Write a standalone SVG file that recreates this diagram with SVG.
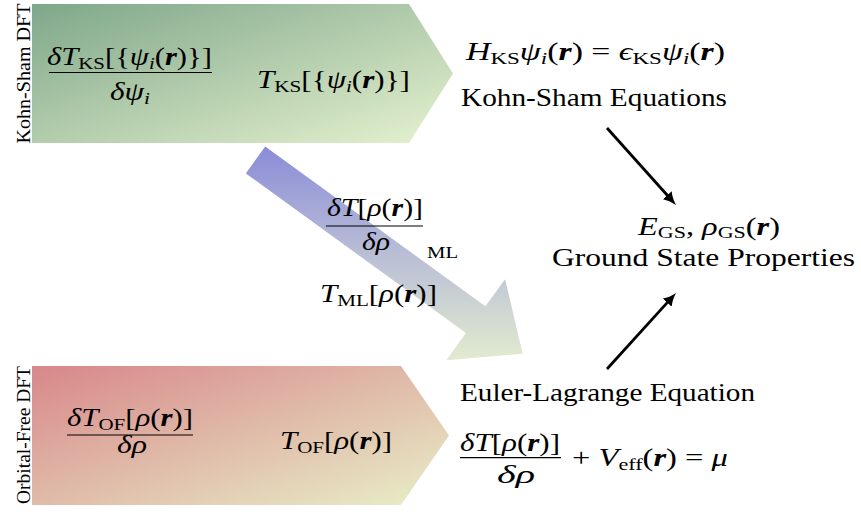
<svg xmlns="http://www.w3.org/2000/svg" width="861" height="512" viewBox="0 0 861 512" font-family="Liberation Serif, DejaVu Serif, serif">
<style>
text{fill:#000}
.t{font-size:25px}
.p{font-size:26px}
.lab{font-size:19px}
.i{font-style:italic}
.b{font-style:italic;font-weight:bold}
.s{font-size:17px}
.bar{stroke:#000;stroke-width:1.2}
.conn{stroke:#000;stroke-width:2.8;fill:none}
</style>
<defs>
<linearGradient id="gKS" x1="0" y1="0" x2="1" y2="1">
<stop offset="0" stop-color="#7fa78a"/>
<stop offset="1" stop-color="#e6f2cf"/>
</linearGradient>
<linearGradient id="gOF" x1="0" y1="0" x2="1" y2="1">
<stop offset="0" stop-color="#d8878a"/>
<stop offset="1" stop-color="#e8efc8"/>
</linearGradient>
<linearGradient id="gML" gradientUnits="userSpaceOnUse" x1="0" y1="147" x2="0" y2="361">
<stop offset="0" stop-color="#8b8cd8"/>
<stop offset="0.5" stop-color="#b9bed6"/>
<stop offset="1" stop-color="#e2ebcf"/>
</linearGradient>
<marker id="ah" viewBox="0 -7 14 14" markerWidth="14" markerHeight="14" refX="3" refY="0" orient="auto" markerUnits="userSpaceOnUse">
<path d="M0,-6 Q5,-2 13,0 Q5,2 0,6 Z" fill="#000"/>
</marker>
</defs>

<g id="ks-dft">
<path d="M32,4 L409,4 L453,73.5 L409,143 L32,143 Z" fill="url(#gKS)"/>
<text class="lab" transform="translate(30,73.5) rotate(-90)" text-anchor="middle" textLength="140" lengthAdjust="spacingAndGlyphs">Kohn-Sham DFT</text>
<text class="t" x="129.5" y="65" text-anchor="middle" textLength="165" lengthAdjust="spacingAndGlyphs"><tspan class="i">δT</tspan><tspan class="s" dy="4">KS</tspan><tspan dy="-4">[{</tspan><tspan class="i">ψ</tspan><tspan class="s i" dy="4">i</tspan><tspan dy="-4">(</tspan><tspan class="b">r</tspan>)}]</text>
<line class="bar" x1="49" y1="72.5" x2="212" y2="72.5"/>
<text class="t" x="130" y="100" text-anchor="middle" textLength="40" lengthAdjust="spacingAndGlyphs"><tspan class="i">δψ</tspan><tspan class="s i" dy="4">i</tspan></text>
<text class="t" x="333.5" y="88" text-anchor="middle" textLength="153" lengthAdjust="spacingAndGlyphs"><tspan class="i">T</tspan><tspan class="s" dy="4">KS</tspan><tspan dy="-4">[{</tspan><tspan class="i">ψ</tspan><tspan class="s i" dy="4">i</tspan><tspan dy="-4">(</tspan><tspan class="b">r</tspan>)}]</text>
</g>

<g id="of-dft">
<path d="M32,366 L401,366 L449,435.5 L401,505 L32,505 Z" fill="url(#gOF)"/>
<text class="lab" transform="translate(30,435) rotate(-90)" text-anchor="middle" textLength="138" lengthAdjust="spacingAndGlyphs">Orbital-Free DFT</text>
<text class="t" x="130" y="425.5" text-anchor="middle" textLength="126" lengthAdjust="spacingAndGlyphs"><tspan class="i">δT</tspan><tspan class="s" dy="4">OF</tspan><tspan dy="-4">[</tspan><tspan class="i">ρ</tspan>(<tspan class="b">r</tspan>)]</text>
<line class="bar" x1="67" y1="435" x2="193" y2="435"/>
<text class="t i" x="132" y="453" text-anchor="middle" textLength="30" lengthAdjust="spacingAndGlyphs">δρ</text>
<text class="t" x="336" y="449" text-anchor="middle" textLength="112" lengthAdjust="spacingAndGlyphs"><tspan class="i">T</tspan><tspan class="s" dy="4">OF</tspan><tspan dy="-4">[</tspan><tspan class="i">ρ</tspan>(<tspan class="b">r</tspan>)]</text>
</g>

<g id="ml-arrow">
<path d="M265.2,146.6 L485.4,306.3 L505.1,279.2 L522.7,353.8 L446.3,360.2 L466,333.1 L245.8,173.4 Z" fill="url(#gML)"/>
<text class="t" x="375" y="216" text-anchor="middle" textLength="96" lengthAdjust="spacingAndGlyphs"><tspan class="i">δT</tspan>[<tspan class="i">ρ</tspan>(<tspan class="b">r</tspan>)]</text>
<line class="bar" x1="326" y1="226" x2="423" y2="226"/>
<text class="t i" x="376" y="250" text-anchor="middle" textLength="28" lengthAdjust="spacingAndGlyphs">δρ</text>
<text class="s" x="427" y="258" textLength="31" lengthAdjust="spacingAndGlyphs">ML</text>
<text class="t" x="378.5" y="302" text-anchor="middle" textLength="117" lengthAdjust="spacingAndGlyphs"><tspan class="i">T</tspan><tspan class="s" dy="4">ML</tspan><tspan dy="-4">[</tspan><tspan class="i">ρ</tspan>(<tspan class="b">r</tspan>)]</text>
</g>

<g id="ks-equations">
<text class="t" x="595.5" y="60" text-anchor="middle" textLength="259" lengthAdjust="spacingAndGlyphs"><tspan class="i">H</tspan><tspan class="s" dy="4">KS</tspan><tspan class="i" dy="-4">ψ</tspan><tspan class="s i" dy="4">i</tspan><tspan dy="-4">(</tspan><tspan class="b">r</tspan>) = <tspan class="i">ϵ</tspan><tspan class="s" dy="4">KS</tspan><tspan class="i" dy="-4">ψ</tspan><tspan class="s i" dy="4">i</tspan><tspan dy="-4">(</tspan><tspan class="b">r</tspan>)</text>
<text class="p" x="461" y="106" textLength="266" lengthAdjust="spacingAndGlyphs">Kohn-Sham Equations</text>
</g>

<g id="gs-properties">
<text class="t" x="709" y="235" text-anchor="middle" textLength="142" lengthAdjust="spacingAndGlyphs"><tspan class="i">E</tspan><tspan class="s" dy="3">GS</tspan><tspan dy="-3">, </tspan><tspan class="i">ρ</tspan><tspan class="s" dy="3">GS</tspan><tspan dy="-3">(</tspan><tspan class="b">r</tspan>)</text>
<text class="p" x="552" y="265.5" textLength="303" lengthAdjust="spacingAndGlyphs">Ground State Properties</text>
</g>

<g id="el-equation">
<text class="p" x="460" y="401" textLength="295" lengthAdjust="spacingAndGlyphs">Euler-Lagrange Equation</text>
<text class="t" x="510" y="451" text-anchor="middle" textLength="100" lengthAdjust="spacingAndGlyphs"><tspan class="i">δT</tspan>[<tspan class="i">ρ</tspan>(<tspan class="b">r</tspan>)]</text>
<line class="bar" x1="460" y1="457.7" x2="561" y2="457.7"/>
<text class="t i" x="516" y="483" text-anchor="middle" textLength="38" lengthAdjust="spacingAndGlyphs">δρ</text>
<text class="t" x="572" y="466" textLength="156" lengthAdjust="spacingAndGlyphs">+ <tspan class="i">V</tspan><tspan class="s" dy="4">eff</tspan><tspan dy="-4">(</tspan><tspan class="b">r</tspan>) = <tspan class="i">μ</tspan></text>
</g>

<g id="connectors">
<line class="conn" x1="607" y1="128" x2="669.3" y2="197.5" marker-end="url(#ah)"/>
<line class="conn" x1="607" y1="369" x2="669.3" y2="300.4" marker-end="url(#ah)"/>
</g>
</svg>
